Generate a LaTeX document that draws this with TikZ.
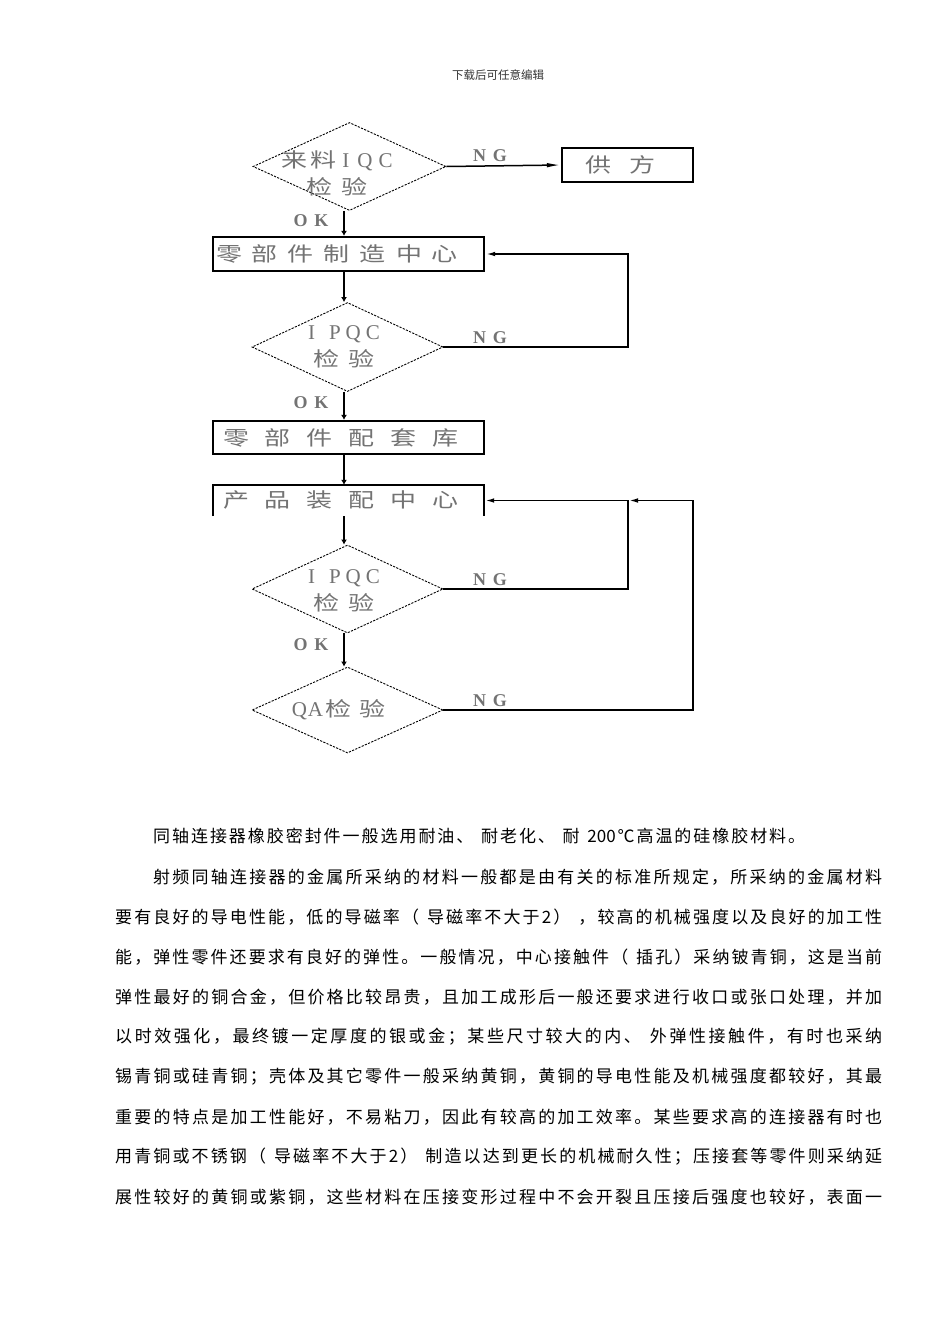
\documentclass[tikz,border=0pt]{standalone}
\usepackage{fontspec}
\setmainfont{Liberation Serif}
\newfontfamily\cjk{Noto Sans CJK SC}
\newfontfamily\cjkw[FakeStretch=1.3]{Noto Sans CJK SC}
\usetikzlibrary{shapes.geometric,arrows.meta}
\def\jend{JEND}
\def\jloop#1{\ifx#1\jend\unskip\else#1\hskip0pt plus 1fil\relax\expandafter\jloop\fi}
\newcommand\jline[2]{\makebox[#1][s]{\jloop#2\jend}}
\newcommand\twoh{\mbox{200}}
\tikzset{
  boxst/.style={draw, line width=2.2pt, minimum width=271pt, minimum height=34pt, inner sep=0pt},
  boxline/.style={line width=2.2pt, line join=miter},
  dia/.style={draw, diamond, aspect=2.2, minimum width=193pt, minimum height=88pt, inner sep=0pt,
              line width=0.9pt, dash pattern=on 2.2pt off 1.3pt},
  ftext/.style={text=black!55, inner sep=0pt, align=center,
                font=\cjkw\fontsize{20pt}{27pt}\selectfont},
  dtext/.style={text=black!55, inner sep=0pt, align=center,
                font=\cjkw\fontsize{20pt}{27pt}\selectfont},
  lat/.style={text=black!55, inner sep=0pt, font=\rmfamily\bfseries\fontsize{18pt}{22pt}\selectfont},
  conn/.style={line width=2.2pt, -{Latex[length=5pt,width=6pt]}},
  fb/.style={line width=1.8pt, line join=miter, -{Latex[length=10pt,width=4.5pt]}},
  ngline/.style={line width=1.5pt, -{Latex[length=14pt,width=4.5pt]}},
  body/.style={anchor=west, inner sep=0pt, font=\cjk\fontsize{17pt}{20pt}\selectfont},
}
\begin{document}
\begin{tikzpicture}[x=1pt,y=-1pt]
\useasboundingbox[fill=white] (0,0) rectangle (950,1344);

% header
\node[inner sep=0pt, text=black!80, font=\cjk\fontsize{11.5pt}{13pt}\selectfont] (hdr) at (498,75) {下载后可任意编辑};

% shapes
\node[dia] (d1) at (349.5,166.5) {};
\node[dtext] (d1t) at (337,173.5) {来\kern3pt 料\kern6pt{\rmfamily\fontsize{21pt}{27pt}\selectfont I\kern8pt Q\kern6pt C}\\检\kern10pt 验};
\node[boxst, minimum width=131pt] (sup) at (627.5,165) {};
\node[ftext] (supt) at (620.5,165) {供\kern19pt 方};

\node[boxst] (b2) at (348.5,254) {};
\node[ftext] (b2t) at (337,254) {零\kern10pt 部\kern10pt 件\kern10pt 制\kern10pt 造\kern10pt 中\kern10pt 心};

\node[dia, minimum width=191pt, minimum height=89pt] (d2) at (347.5,347) {};
\node[dtext] (d2t) at (344,346.5) {{\rmfamily\fontsize{21pt}{27pt}\selectfont I\kern14pt P\kern5pt Q\kern5pt C}\\检\kern10pt 验};

\node[boxst, minimum height=33pt] (b3) at (348.5,437.5) {};
\node[ftext] (b3t) at (341,437.5) {零\kern16pt 部\kern16pt 件\kern16pt 配\kern16pt 套\kern16pt 库};

\node[minimum width=271pt, minimum height=31pt, inner sep=0pt] (b4) at (348.5,500.5) {};
\draw[boxline] (b4.south west) -- (b4.north west) -- (b4.north east) -- (b4.south east);
\node[ftext] (b4t) at (341,500) {产\kern16pt 品\kern16pt 装\kern16pt 配\kern16pt 中\kern16pt 心};

\node[dia, minimum width=191pt] (d3) at (347.5,589) {};
\node[dtext] (d3t) at (344,590.5) {{\rmfamily\fontsize{21pt}{27pt}\selectfont I\kern14pt P\kern5pt Q\kern5pt C}\\检\kern10pt 验};

\node[dia, minimum width=191pt, minimum height=86pt] (d4) at (347.5,710) {};
\node[dtext] (d4t) at (338.5,710) {{\rmfamily\fontsize{21pt}{27pt}\selectfont Q\kern1pt A}\kern2pt 检\kern8pt 验};

% labels
\node[lat] (ng1) at (490,156) {N\kern7pt G};
\node[lat] (ng2) at (490,338) {N\kern7pt G};
\node[lat] (ng3) at (490,580) {N\kern7pt G};
\node[lat] (ng4) at (490,701) {N\kern7pt G};
\node[lat] (ok1) at (311,221) {O\kern7pt K};
\node[lat] (ok2) at (311,403) {O\kern7pt K};
\node[lat] (ok3) at (311,645) {O\kern7pt K};

% connectors
\coordinate (sp) at (344,0);
\coordinate (r1) at (628,0);
\coordinate (r2) at (693,0);
\draw[conn] (d1.south -| sp) -- (b2.north -| sp);
\draw[conn] (b2.south -| sp) -- (d2.north -| sp);
\draw[conn] (d2.south -| sp) -- (b3.north -| sp);
\draw[conn] (b3.south -| sp) -- (b4.north -| sp);
\draw[conn] (b4.south -| sp) -- (d3.north -| sp);
\draw[conn] (d3.south -| sp) -- (d4.north -| sp);
\draw[ngline] (d1.east) -- (sup.west);
\draw[fb] (d2.east) -- (d2.east -| r1) -- (b2.east -| r1) -- (b2.east);
\draw[fb] (d3.east) -- (d3.east -| r1) -- (b4.east -| r1) -- (b4.east);
\draw[fb] (d4.east) -- (d4.east -| r2) -- (b4.east -| r2) -- (b4.east -| r1);

% body text
\node[body] (p1) at (153,836) {\jline{652pt}{同轴连接器橡胶密封件一般选用耐油、~耐老化、~耐~\twoh℃高温的硅橡胶材料。}};
\node[body] (p2) at (153,877) {\jline{729pt}{射频同轴连接器的金属所采纳的材料一般都是由有关的标准所规定，所采纳的金属材料}};
\node[body] (p3) at (115,917) {\jline{767pt}{要有良好的导电性能，低的导磁率（~导磁率不大于2）~，较高的机械强度以及良好的加工性}};
\node[body] (p4) at (115,957) {\jline{767pt}{能，弹性零件还要求有良好的弹性。一般情况，中心接触件（~插孔）采纳铍青铜，这是当前}};
\node[body] (p5) at (115,997) {\jline{767pt}{弹性最好的铜合金，但价格比较昂贵，且加工成形后一般还要求进行收口或张口处理，并加}};
\node[body] (p6) at (115,1037) {\jline{767pt}{以时效强化，最终镀一定厚度的银或金；某些尺寸较大的内、~外弹性接触件，有时也采纳}};
\node[body] (p7) at (115,1077) {\jline{767pt}{锡青铜或硅青铜；壳体及其它零件一般采纳黄铜，黄铜的导电性能及机械强度都较好，其最}};
\node[body] (p8) at (115,1117) {\jline{767pt}{重要的特点是加工性能好，不易粘刀，因此有较高的加工效率。某些要求高的连接器有时也}};
\node[body] (p9) at (115,1157) {\jline{767pt}{用青铜或不锈钢（~导磁率不大于2）~制造以达到更长的机械耐久性；压接套等零件则采纳延}};
\node[body] (p10) at (115,1197) {\jline{767pt}{展性较好的黄铜或紫铜，这些材料在压接变形过程中不会开裂且压接后强度也较好，表面一}};
\end{tikzpicture}
\end{document}
